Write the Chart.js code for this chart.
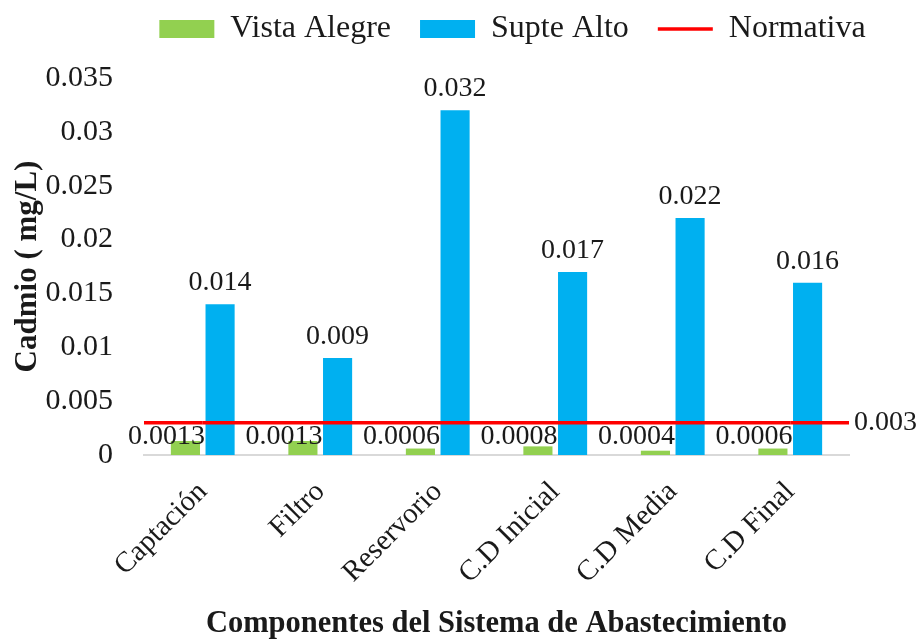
<!DOCTYPE html>
<html>
<head>
<meta charset="utf-8">
<script src="https://cdn.jsdelivr.net/npm/chart.js@4/dist/chart.umd.min.js"></script>
<style>
  html, body { margin: 0; padding: 0; background: #ffffff; }
  canvas { display: block; }
</style>
</head>
<body>
<canvas id="chart" width="923" height="642"></canvas>
<script>
// Cadmium concentration along the water supply system
const categories = ['Captación', 'Filtro', 'Reservorio', 'C.D Inicial', 'C.D Media', 'C.D Final'];
const vistaAlegre = [0.0013, 0.0013, 0.0006, 0.0008, 0.0004, 0.0006];
const supteAlto = [0.014, 0.009, 0.032, 0.017, 0.022, 0.016];
const normativa = 0.003;
const normativaLine = [0.003, 0.003, 0.003, 0.003, 0.003, 0.003];

const yMin = 0;
const yMax = 0.035;
const yStep = 0.005;

const FONT = '"Liberation Serif", "Times New Roman", serif';
const INK = '#1a1a1a';

const fmt = v => String(+Number(v).toFixed(4));

// the limit line runs across the whole plot width
const fullWidthLimit = {
  id: 'fullWidthLimit',
  afterDatasetsDraw(chart) {
    const idx = chart.data.datasets.findIndex(d => d.type === 'line');
    const meta = chart.getDatasetMeta(idx);
    if (!meta || !meta.data.length) return;
    const ds = chart.data.datasets[idx];
    const first = meta.data[0];
    const last = meta.data[meta.data.length - 1];
    const { left, right } = chart.chartArea;
    const ctx = chart.ctx;
    ctx.save();
    ctx.strokeStyle = ds.borderColor;
    ctx.lineWidth = ds.borderWidth;
    ctx.beginPath();
    ctx.moveTo(left, first.y);
    ctx.lineTo(first.x, first.y);
    ctx.moveTo(last.x, last.y);
    ctx.lineTo(right, last.y);
    ctx.stroke();
    ctx.restore();
  }
};

// value labels above each bar
const valueLabels = {
  id: 'valueLabels',
  afterDatasetsDraw(chart) {
    const ctx = chart.ctx;
    const zeroY = chart.scales.y.getPixelForValue(0);
    ctx.save();
    ctx.font = '28px ' + FONT;
    ctx.fillStyle = INK;
    ctx.textAlign = 'center';
    ctx.textBaseline = 'alphabetic';
    chart.data.datasets.forEach((ds, i) => {
      if (ds.type === 'line') return;
      const meta = chart.getDatasetMeta(i);
      meta.data.forEach((bar, j) => {
        const text = fmt(ds.data[j]);
        if (i === 0) {
          ctx.fillText(text, bar.x - 19, zeroY - 11);
        } else {
          ctx.fillText(text, bar.x, bar.y - 14);
        }
      });
    });
    ctx.restore();
  }
};

// place the legend row near the top edge, a little right of centre
const legendPlace = {
  id: 'legendPlace',
  afterLayout(chart) {
    const l = chart.legend;
    if (!l) return;
    l.top -= 23; l.bottom -= 23;
    l.left += 51; l.right += 51;
  }
};

new Chart(document.getElementById('chart'), {
  type: 'bar',
  data: {
    labels: categories,
    datasets: [
      {
        label: 'Vista Alegre',
        data: vistaAlegre,
        backgroundColor: '#92d050',
        borderWidth: 0,
        pointStyle: 'rect',
        order: 1
      },
      {
        label: 'Supte Alto',
        data: supteAlto,
        backgroundColor: '#00b0f0',
        borderWidth: 0,
        pointStyle: 'rect',
        order: 1
      },
      {
        type: 'line',
        label: 'Normativa',
        data: normativaLine,
        borderColor: '#ff0000',
        backgroundColor: '#ff0000',
        borderWidth: 3.5,
        pointRadius: 0,
        pointStyle: 'line',
        order: 0
      }
    ]
  },
  options: {
    responsive: false,
    animation: false,
    layout: { padding: { top: 7, left: 0, right: 0, bottom: 0 } },
    datasets: {
      bar: { categoryPercentage: 0.59, barPercentage: 0.84 }
    },
    plugins: {
      tooltip: { enabled: false },
      legend: {
        position: 'top',
        labels: {
          usePointStyle: true,
          pointStyleWidth: 55,
          boxHeight: 18,
          padding: 29,
          color: INK,
          font: { family: FONT, size: 32 },
          sort: (a, b) => a.datasetIndex - b.datasetIndex
        }
      }
    },
    scales: {
      x: {
        type: 'category',
        offset: true,
        grid: { display: false, drawTicks: false },
        border: { display: true, color: '#d9d9d9', width: 2 },
        ticks: {
          color: INK,
          font: { family: FONT, size: 29 },
          minRotation: 45,
          maxRotation: 45,
          autoSkip: false,
          padding: 20
        },
        title: {
          display: true,
          text: 'Componentes del Sistema de Abastecimiento',
          color: INK,
          font: { family: FONT, size: 30.5, weight: 'bold' },
          padding: { top: 0, bottom: 0 }
        },
        afterFit: s => { s.height = 187; }
      },
      y: {
        position: 'left',
        min: yMin,
        max: yMax,
        grid: { display: false, drawTicks: false },
        border: { display: false },
        ticks: {
          stepSize: yStep,
          color: INK,
          font: { family: FONT, size: 30 },
          padding: 31,
          callback: v => fmt(v)
        },
        title: {
          display: true,
          text: 'Cadmio ( mg/L)',
          color: INK,
          font: { family: FONT, size: 31, weight: 'bold' },
          padding: { top: 9, bottom: 0 }
        },
        afterFit: s => { s.width = 144; }
      },
      yRight: {
        position: 'right',
        min: yMin,
        max: yMax,
        grid: { display: false, drawTicks: false },
        border: { display: false },
        ticks: {
          color: INK,
          font: { family: FONT, size: 28 },
          padding: 5,
          callback: v => fmt(v)
        },
        afterBuildTicks: s => { s.ticks = [{ value: normativa }]; },
        afterFit: s => { s.width = 74; }
      }
    }
  },
  plugins: [fullWidthLimit, valueLabels, legendPlace]
});
</script>
</body>
</html>
